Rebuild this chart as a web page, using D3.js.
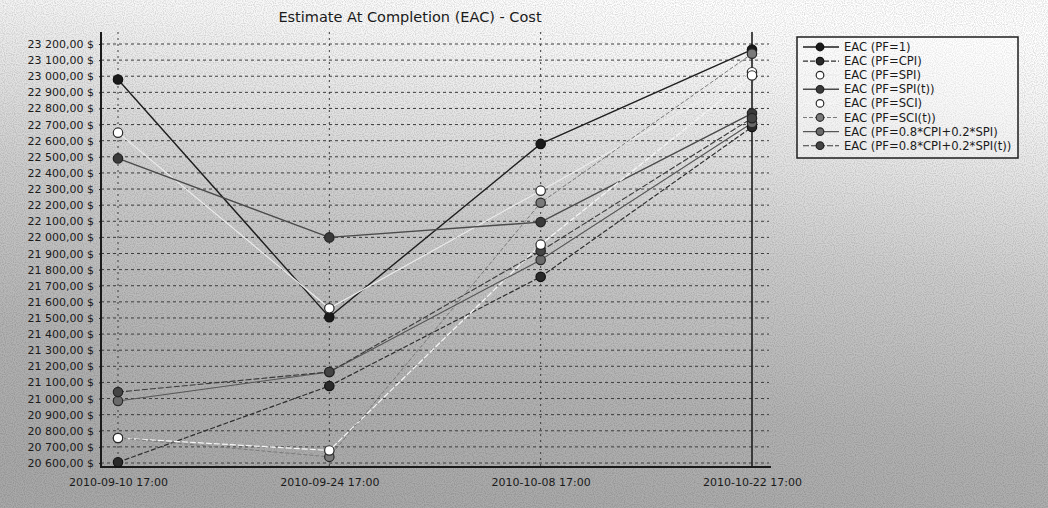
<!DOCTYPE html>
<html>
<head>
<meta charset="utf-8">
<script src="https://cdn.jsdelivr.net/npm/d3@7"></script>
<style>
  html, body { margin: 0; padding: 0; background: #fff; }
  svg { display: block; }
  text { font-family: "DejaVu Sans", Verdana, sans-serif; fill: #1a1a1a; }
</style>
</head>
<body>
<svg id="chart" width="1048" height="508"></svg>
<script>
// ---- data ----
const title = "Estimate At Completion (EAC) - Cost";
const categories = ["2010-09-10 17:00", "2010-09-24 17:00", "2010-10-08 17:00", "2010-10-22 17:00"];
const yTicks = [20600, 20700, 20800, 20900, 21000, 21100, 21200, 21300, 21400, 21500, 21600, 21700, 21800,
                21900, 22000, 22100, 22200, 22300, 22400, 22500, 22600, 22700, 22800, 22900, 23000, 23100, 23200];
const seriesNames = ["EAC (PF=1)", "EAC (PF=CPI)", "EAC (PF=SPI)", "EAC (PF=SPI(t))", "EAC (PF=SCI)",
                     "EAC (PF=SCI(t))", "EAC (PF=0.8*CPI+0.2*SPI)", "EAC (PF=0.8*CPI+0.2*SPI(t))"];
const eacPF1      = [22980, 21505, 22580, 23165];
const eacCPI      = [20605, 21078, 21755, 22685];
const eacSPI      = [22650, 21560, 22290, 23025];
const eacSPIt     = [22490, 22000, 22095, 22770];
const eacSCI      = [20755, 20678, 21955, 23005];
const eacSCIt     = [20755, 20638, 22215, 23140];
const eacMix      = [20985, 21165, 21860, 22710];
const eacMixT     = [21040, 21165, 21915, 22740];
const seriesValues = [eacPF1, eacCPI, eacSPI, eacSPIt, eacSCI, eacSCIt, eacMix, eacMixT];

// ---- styles (grayscale scan look) ----
const styles = [
  {line: "#1e1e1e", width: 1.4, dash: null,  fill: "#1a1a1a", stroke: "#111"},
  {line: "#2e2e2e", width: 1.2, dash: "5,2", fill: "#2a2a2a", stroke: "#111"},
  {line: "#ececec", width: 1.1, dash: null,  fill: "#ffffff", stroke: "#2a2a2a"},
  {line: "#4a4a4a", width: 1.4, dash: null,  fill: "#3a3a3a", stroke: "#222"},
  {line: "#f6f6f6", width: 1.2, dash: "6,2", fill: "#ffffff", stroke: "#2a2a2a"},
  {line: "#7a7a7a", width: 1.0, dash: "4,2", fill: "#7a7a7a", stroke: "#2a2a2a"},
  {line: "#555555", width: 1.1, dash: null,  fill: "#6a6a6a", stroke: "#2a2a2a"},
  {line: "#3a3a3a", width: 1.1, dash: "6,2", fill: "#444444", stroke: "#222"}
];
const markerOrder = [0, 1, 3, 5, 6, 7, 2, 4];

const svg = d3.select("#chart");
const W = 1048, H = 508;

// background gradient (scanned paper)
const defs = svg.append("defs");
const grad = defs.append("linearGradient").attr("id", "bg")
  .attr("x1", 0.62).attr("y1", 0).attr("x2", 0.38).attr("y2", 1);
grad.append("stop").attr("offset", 0).attr("stop-color", "#ffffff");
grad.append("stop").attr("offset", 0.12).attr("stop-color", "#f7f7f7");
grad.append("stop").attr("offset", 0.45).attr("stop-color", "#cdcdcd");
grad.append("stop").attr("offset", 0.75).attr("stop-color", "#b3b3b3");
grad.append("stop").attr("offset", 1).attr("stop-color", "#a9a9a9");
svg.append("rect").attr("width", W).attr("height", H).attr("fill", "url(#bg)");

const noise = defs.append("filter").attr("id", "noise").attr("x", 0).attr("y", 0).attr("width", "100%").attr("height", "100%");
noise.append("feTurbulence").attr("type", "fractalNoise").attr("baseFrequency", 0.9).attr("numOctaves", 1).attr("seed", 3);
noise.append("feColorMatrix").attr("type", "matrix")
  .attr("values", "0 0 0 0 0  0 0 0 0 0  0 0 0 0 0  0 0 0 -1.2 0.75");
svg.append("rect").attr("width", W).attr("height", H).attr("filter", "url(#noise)").attr("opacity", 0.28);

// ---- scales ----
const plotL = 101, plotR = 771, plotT = 32, plotB = 467;
const x = d3.scalePoint().domain(categories).range([118, 752]);
const y = d3.scaleLinear().domain([20600, 23200]).range([463, 44]);

const loc = d3.formatLocale({decimal: ",", thousands: "\u00a0", grouping: [3], currency: ["", ""]});
const fmt = v => loc.format(",.2f")(v) + " $";

// grid
const g = svg.append("g");
g.selectAll("line.hgrid").data(yTicks).join("line")
  .attr("x1", plotL).attr("x2", plotR - 2)
  .attr("y1", d => y(d)).attr("y2", d => y(d))
  .attr("stroke", "#3c3c3c").attr("stroke-width", 1).attr("stroke-dasharray", "3,3");
g.selectAll("line.vgrid").data(categories.slice(0, 3)).join("line")
  .attr("x1", d => x(d)).attr("x2", d => x(d))
  .attr("y1", plotT).attr("y2", plotB)
  .attr("stroke", "#3c3c3c").attr("stroke-width", 1).attr("stroke-dasharray", "2,4");
// last category line (solid)
g.append("line")
  .attr("x1", x(categories[3])).attr("x2", x(categories[3]))
  .attr("y1", plotT).attr("y2", plotB)
  .attr("stroke", "#1e1e1e").attr("stroke-width", 1.6);

// axes via d3
const yAxis = d3.axisLeft(y).tickValues(yTicks).tickFormat(fmt).tickSize(2).tickPadding(5);
const yg = svg.append("g").attr("transform", `translate(${plotL},0)`).call(yAxis);
yg.select(".domain").remove();
yg.selectAll("line").attr("stroke", "#222");
yg.selectAll("text").attr("font-size", 11).attr("fill", "#1a1a1a").attr("x", -7);

const xAxis = d3.axisBottom(x).tickSize(0).tickPadding(11);
const xg = svg.append("g").attr("transform", `translate(0,${plotB})`).call(xAxis);
xg.select(".domain").remove();
xg.selectAll("text").attr("font-size", 11).attr("fill", "#1a1a1a");

// axis lines
svg.append("line").attr("x1", plotL).attr("x2", plotL).attr("y1", plotT).attr("y2", plotB + 1)
  .attr("stroke", "#1a1a1a").attr("stroke-width", 2);
svg.append("line").attr("x1", plotL).attr("x2", plotR).attr("y1", plotB).attr("y2", plotB)
  .attr("stroke", "#1a1a1a").attr("stroke-width", 2);

// title
svg.append("text").attr("x", 410).attr("y", 22).attr("text-anchor", "middle")
  .attr("font-size", 14.5).text(title);

// series lines
const line = d3.line().x((d, i) => x(categories[i])).y(d => y(d));
const sg = svg.append("g");
seriesValues.forEach((vals, si) => {
  const st = styles[si];
  sg.append("path").datum(vals).attr("d", line)
    .attr("fill", "none").attr("stroke", st.line).attr("stroke-width", st.width)
    .attr("stroke-dasharray", st.dash);
});
markerOrder.forEach(si => {
  const st = styles[si];
  sg.selectAll(null).data(seriesValues[si]).join("circle")
    .attr("cx", (d, i) => x(categories[i])).attr("cy", d => y(d)).attr("r", 4.7)
    .attr("fill", st.fill).attr("stroke", st.stroke).attr("stroke-width", 1.2);
});

// legend
const lg = svg.append("g");
const lx = 797, ly = 37, lw = 221, lh = 121, rowH = 14.1;
lg.append("rect").attr("x", lx).attr("y", ly).attr("width", lw).attr("height", lh)
  .attr("fill", "#ffffff").attr("fill-opacity", 0.35).attr("stroke", "#1e1e1e").attr("stroke-width", 1.5);
seriesNames.forEach((name, i) => {
  const st = styles[i];
  const cy = ly + 10 + i * rowH;
  lg.append("line").attr("x1", 803).attr("x2", 839).attr("y1", cy).attr("y2", cy)
    .attr("stroke", st.line).attr("stroke-width", st.width).attr("stroke-dasharray", st.dash);
  lg.append("circle").attr("cx", 820).attr("cy", cy).attr("r", 3.8)
    .attr("fill", st.fill).attr("stroke", st.stroke).attr("stroke-width", 1.2);
  lg.append("text").attr("x", 844).attr("y", cy + 4).attr("font-size", 11.6).text(name);
});
</script>
</body>
</html>
